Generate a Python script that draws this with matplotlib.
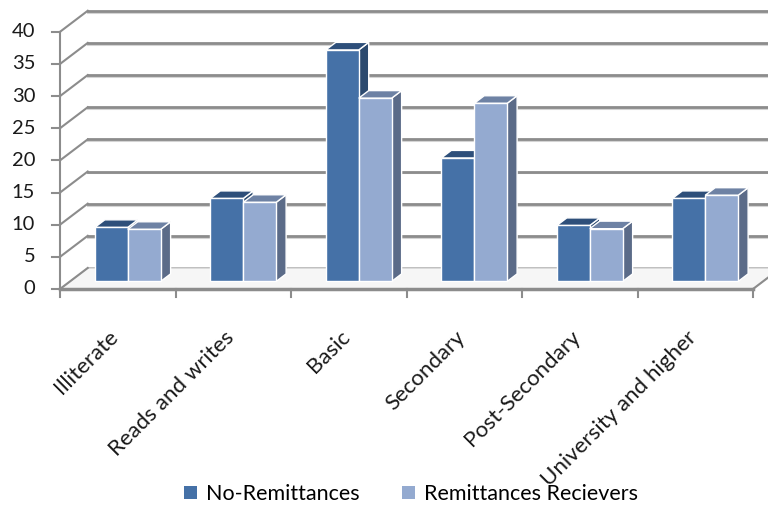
import matplotlib
matplotlib.use('Agg')
import matplotlib.pyplot as plt
from matplotlib.patches import Polygon, Rectangle, Patch

plt.rcParams['font.family'] = ['Lato', 'DejaVu Sans']

categories = ['Illiterate', 'Reads and writes', 'Basic', 'Secondary',
              'Post-Secondary', 'University and higher']
no_remit = [8.4, 12.9, 36.0, 19.2, 8.7, 12.9]
remit_recv = [8.1, 12.3, 28.5, 27.7, 8.2, 13.4]
series_names = ['No-Remittances', 'Remittances Recievers']
yticks = [0, 5, 10, 15, 20, 25, 30, 35, 40]

# colours: front, top, side
dark = ('#4571a7', '#2e4f7a', '#2c4a6f')
light = ('#94aad0', '#6e82a4', '#5b6b88')

# fake 3-D depth (in data units)
DX, DY = 0.24, 3.27      # wall depth
F0 = 0.36                # where the bar fronts sit in depth
FD = 0.36                # bar depth
W = 0.285                # bar width

fig = plt.figure(figsize=(7.68, 5.12), dpi=100)
ax = fig.add_axes([0, 0, 1, 1])
ax.set_xlim(-60 / 115.5, (768 - 60) / 115.5)
ax.set_ylim((289 - 512) / 6.43, 289 / 6.43)
ax.axis('off')

n = len(categories)
grid_c = '#8c8c8c'

# floor
ax.add_patch(Polygon([(0, 0), (n, 0), (n + DX, DY), (DX, DY)],
                     closed=True, facecolor='#f6f6f6', edgecolor='#cfcfcf',
                     lw=1, zorder=1))

# back wall gridlines + left wall diagonals
for v in yticks:
    ax.plot([DX, n + DX + 0.5], [v + DY - 0.3, v + DY - 0.3], color='#d4d4d4', lw=1.5, zorder=0)
    ax.plot([DX, n + DX + 0.5], [v + DY, v + DY], color=grid_c, lw=2, zorder=0)
    ax.plot([0, DX], [v, v + DY], color=grid_c, lw=1.5, zorder=1)
    ax.plot([-0.07, 0], [v, v], color=grid_c, lw=1.5, zorder=1)
    ax.text(-0.215, v, str(v), ha='right', va='center', fontsize=14.5, color='#1a1a1a')

# front axes
ax.plot([0, 0], [0, yticks[-1]], color=grid_c, lw=1.5, zorder=1)
ax.plot([0, n], [0, 0], color=grid_c, lw=2.5, zorder=5)
ax.plot([n, n + DX * 0.7], [0, DY * 0.7], color=grid_c, lw=1.5, zorder=5)
for i in range(n + 1):
    ax.plot([i, i], [0, -1.2], color=grid_c, lw=1.5, zorder=5)

# bars
base = F0 * DY
for i in range(n):
    x0 = i + 0.5 - W + F0 * DX
    for s, (vals, cols) in enumerate([(no_remit, dark), (remit_recv, light)]):
        xl = x0 + s * W
        v = vals[i]
        ddx, ddy = FD * DX, FD * DY
        ax.add_patch(Polygon([(xl + W, base), (xl + W, base + v),
                              (xl + W + ddx, base + v + ddy), (xl + W + ddx, base + ddy)],
                             closed=True, facecolor=cols[2], edgecolor='white', lw=1, zorder=3))
        ax.add_patch(Polygon([(xl, base + v), (xl + W, base + v),
                              (xl + W + ddx, base + v + ddy), (xl + ddx, base + v + ddy)],
                             closed=True, facecolor=cols[1], edgecolor='white', lw=1, zorder=3))
        ax.add_patch(Rectangle((xl, base), W, v, facecolor=cols[0],
                               edgecolor='white', lw=1, zorder=3))

# category labels
for i, lab in enumerate(categories):
    ax.text(i + 0.5 - 0.02, -7.0, lab, rotation=45, ha='right', va='center',
            rotation_mode='anchor', fontsize=16, color='#1a1a1a', zorder=6)

handles = [Patch(facecolor=dark[0]), Patch(facecolor=light[0])]
fig.legend(handles, series_names, loc='center', bbox_to_anchor=(0.535, 0.035),
           ncol=2, frameon=False, fontsize=15.5, handlelength=0.6, handleheight=0.6,
           handletextpad=0.4, columnspacing=2.0)

fig.savefig('out.png', dpi=100)
